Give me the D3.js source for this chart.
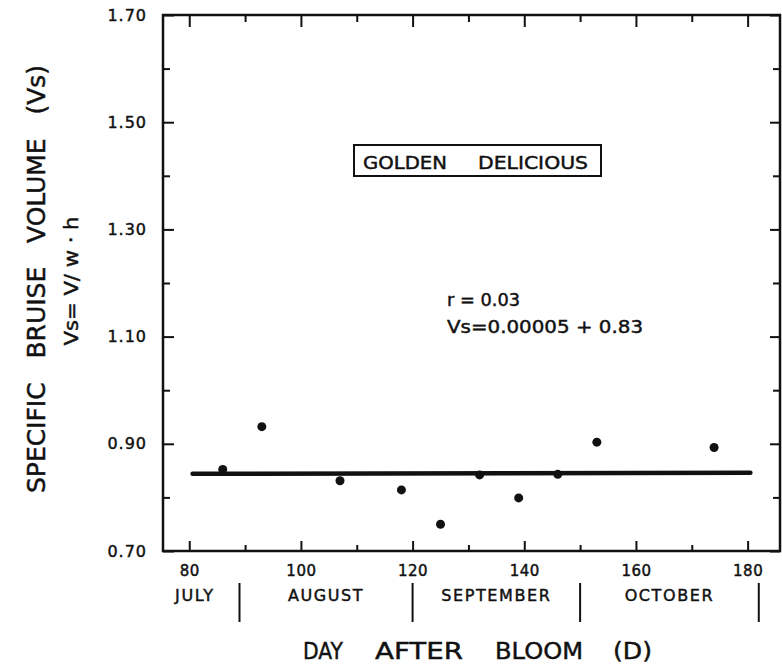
<!DOCTYPE html>
<html>
<head>
<meta charset="utf-8">
<script src="https://cdn.jsdelivr.net/npm/d3@7"></script>
<style>
  body { margin: 0; background: #fff; }
  text { font-family: "DejaVu Sans", "Noto Sans", sans-serif; fill: #111; stroke: #111; stroke-width: 0.45; }
</style>
</head>
<body>
<svg id="chart" width="782" height="665"></svg>
<script>
// Data
var days = [86, 93, 107, 118, 125, 132, 139, 146, 153, 174];
var bruiseVs = [0.852, 0.932, 0.831, 0.814, 0.750, 0.842, 0.799, 0.843, 0.903, 0.893];

// regression line end points
var fitDays = [80.6, 180.5];
var fitVs = [0.844, 0.846];

var xMajor = [80, 100, 120, 140, 160, 180];
var xMinor = [90, 110, 130, 150, 170];
var yMajor = [0.70, 0.90, 1.10, 1.30, 1.50, 1.70];
var yMinor = [0.80, 1.00, 1.20, 1.40, 1.60];

var months = ["JULY", "AUGUST", "SEPTEMBER", "OCTOBER"];
var monthMid = [81, 104.5, 135, 166];
var monthBreaks = [89, 120, 150, 182];

var svg = d3.select("#chart");
var ink = "#111";

// plot frame (note: "top" is taken by window.top, so use a prefix)
var pLeft = 163, pRight = 780, pTop = 15, pBottom = 551;

var x = d3.scaleLinear().domain([75.3, 185.8]).range([pLeft, pRight]);
var y = d3.scaleLinear().domain([0.70, 1.70]).range([pBottom, pTop]);

// text squeezed/stretched between two x positions
function spanText(str, x0, x1, yb, size) {
  return svg.append("text")
    .attr("x", x0).attr("y", yb)
    .attr("font-size", size)
    .attr("textLength", x1 - x0)
    .attr("lengthAdjust", "spacingAndGlyphs")
    .text(str);
}

// axes, ticks pointing inward
function styleAxis(g) {
  g.select(".domain").remove();
  g.selectAll(".tick line").attr("stroke", ink).attr("stroke-width", 2);
  g.selectAll(".tick text").attr("fill", ink).attr("font-family", "DejaVu Sans");
}

svg.append("g").attr("transform", "translate(0," + pBottom + ")")
  .call(d3.axisBottom(x).tickValues(xMajor).tickSize(-10).tickPadding(14).tickFormat(d3.format("d")))
  .call(styleAxis)
  .selectAll("text").attr("font-size", 15).attr("letter-spacing", 0.5);
svg.append("g").attr("transform", "translate(0," + pBottom + ")")
  .call(d3.axisBottom(x).tickValues(xMinor).tickSize(-6).tickFormat(""))
  .call(styleAxis);
svg.append("g").attr("transform", "translate(0," + pTop + ")")
  .call(d3.axisTop(x).tickValues(xMajor).tickSize(-12).tickFormat(""))
  .call(styleAxis);
svg.append("g").attr("transform", "translate(0," + pTop + ")")
  .call(d3.axisTop(x).tickValues(xMinor).tickSize(-7).tickFormat(""))
  .call(styleAxis);

svg.append("g").attr("transform", "translate(" + pLeft + ",0)")
  .call(d3.axisLeft(y).tickValues(yMajor).tickSize(-11).tickPadding(16).tickFormat(d3.format(".2f")))
  .call(styleAxis)
  .selectAll("text").attr("font-size", 16).attr("letter-spacing", 1);
svg.append("g").attr("transform", "translate(" + pLeft + ",0)")
  .call(d3.axisLeft(y).tickValues(yMinor).tickSize(-7).tickFormat(""))
  .call(styleAxis);
svg.append("g").attr("transform", "translate(" + pRight + ",0)")
  .call(d3.axisRight(y).tickValues(yMajor).tickSize(-10).tickFormat(""))
  .call(styleAxis);
svg.append("g").attr("transform", "translate(" + pRight + ",0)")
  .call(d3.axisRight(y).tickValues(yMinor).tickSize(-7).tickFormat(""))
  .call(styleAxis);

// frame
svg.append("rect")
  .attr("x", pLeft).attr("y", pTop)
  .attr("width", pRight - pLeft).attr("height", pBottom - pTop)
  .attr("fill", "none").attr("stroke", ink).attr("stroke-width", 2.5);

// regression line
svg.append("line")
  .attr("x1", x(fitDays[0])).attr("y1", y(fitVs[0]))
  .attr("x2", x(fitDays[1])).attr("y2", y(fitVs[1]))
  .attr("stroke", ink).attr("stroke-width", 4.5).attr("stroke-linecap", "round");

// points
svg.append("g").selectAll("circle")
  .data(days)
  .enter().append("circle")
    .attr("cx", function(d) { return x(d); })
    .attr("cy", function(d, i) { return y(bruiseVs[i]); })
    .attr("r", 4.5)
    .attr("fill", ink);

// month row
svg.append("g").selectAll("text")
  .data(months)
  .enter().append("text")
    .attr("x", function(d, i) { return x(monthMid[i]); })
    .attr("y", 601)
    .attr("text-anchor", "middle")
    .attr("font-size", 16)
    .attr("letter-spacing", 1.6)
    .text(function(d) { return d; });

svg.append("g").selectAll("line")
  .data(monthBreaks)
  .enter().append("line")
    .attr("x1", function(d) { return x(d); })
    .attr("x2", function(d) { return x(d); })
    .attr("y1", 583).attr("y2", 622)
    .attr("stroke", ink).attr("stroke-width", 2);

// x axis title
spanText("DAY", 303, 343, 659, 23);
spanText("AFTER", 375, 463, 659, 23);
spanText("BLOOM", 495, 583, 659, 23);
spanText("(D)", 613, 652, 659, 23);

// y axis title (rotated)
svg.append("text")
  .attr("transform", "translate(45,279) rotate(-90)")
  .attr("text-anchor", "middle")
  .attr("font-size", 24)
  .attr("textLength", 428)
  .attr("lengthAdjust", "spacingAndGlyphs")
  .style("white-space", "pre")
  .text("SPECIFIC   BRUISE   VOLUME   (Vs)");

svg.append("text")
  .attr("transform", "translate(78,281) rotate(-90)")
  .attr("text-anchor", "middle")
  .attr("font-size", 20)
  .attr("textLength", 129)
  .attr("lengthAdjust", "spacingAndGlyphs")
  .style("white-space", "pre")
  .text("Vs= V/ w \u00b7 h");

// cultivar box
svg.append("rect")
  .attr("x", 354).attr("y", 145)
  .attr("width", 247).attr("height", 31)
  .attr("fill", "none").attr("stroke", ink).attr("stroke-width", 2);
spanText("GOLDEN", 363, 447, 169, 18);
spanText("DELICIOUS", 478, 588, 169, 18);

// regression statistics
spanText("r = 0.03", 447, 520, 306, 18).style("white-space", "pre");
spanText("Vs=0.00005 + 0.83", 447, 643, 333, 18).style("white-space", "pre");
</script>
</body>
</html>
